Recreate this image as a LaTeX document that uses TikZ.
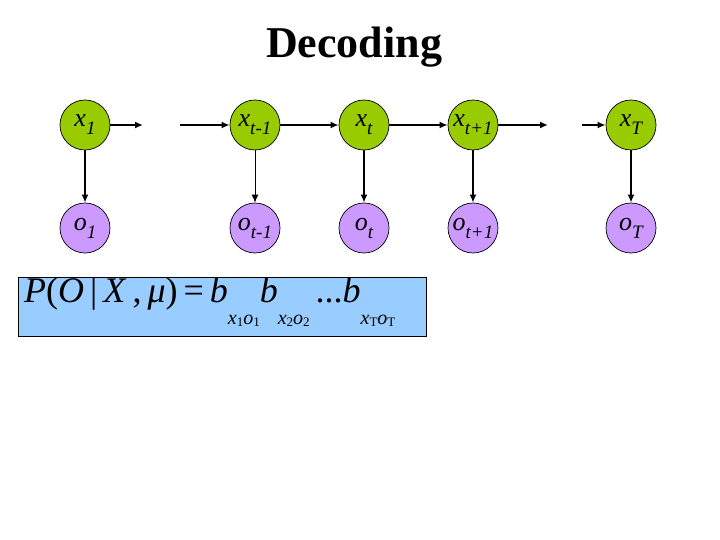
\documentclass[tikz,border=0pt]{standalone}
\usepackage{fontspec}
\setmainfont{Liberation Serif}
\usetikzlibrary{arrows.meta}
\definecolor{hidgreen}{RGB}{153,204,0}
\definecolor{obspurple}{RGB}{204,153,255}
\definecolor{eqblue}{RGB}{153,204,255}
\newcommand{\nsub}[1]{\raisebox{-8pt}{\fontsize{19}{19}\selectfont #1}}
\newcommand{\esub}[2]{\raisebox{-0.62em}{\fontsize{20}{20}\selectfont\itshape #1\raisebox{-0.12em}{\fontsize{13}{13}\selectfont\upshape #2}}}
\begin{document}
\begin{tikzpicture}[x=1pt,y=-1pt,
  hid/.style={circle,draw=black,line width=0.7pt,fill=hidgreen,minimum size=50pt,inner sep=0pt,font=\fontsize{26}{26}\selectfont\itshape},
  obs/.style={circle,draw=black,line width=0.7pt,fill=obspurple,minimum size=50pt,inner sep=0pt,font=\fontsize{26}{26}\selectfont\itshape},
  arr/.style={line width=1.7pt,-{Latex[length=8pt,width=7pt]}},
  thinarr/.style={line width=0.9pt,-{Latex[length=8pt,width=7pt]}}]
\useasboundingbox (0,0) rectangle (720,540);
\node[font=\fontsize{44}{44}\selectfont\bfseries] (title) at (354,47) {Decoding};
\node[hid] (x1) at (85,125) {x\nsub{1}};
\node[hid] (xtm) at (255,125) {x\nsub{t-1}};
\node[hid] (xt) at (364,125) {x\nsub{t}};
\node[hid] (xtp) at (473,125) {x\nsub{t+1}};
\node[hid] (xT) at (631,125) {x\nsub{T}};
\node[obs] (o1) at (85,228) {o\nsub{1}};
\node[obs] (otm) at (255,228) {o\nsub{t-1}};
\node[obs] (ot) at (364,228) {o\nsub{t}};
\node[obs] (otp) at (473,228) {o\nsub{t+1}};
\node[obs] (oT) at (631,228) {o\nsub{T}};
\coordinate (g1) at (143,125);
\coordinate (g2) at (180,125);
\coordinate (g3) at (548,125);
\coordinate (g4) at (582,125);
\draw[arr] (x1) -- (g1);
\draw[arr] (g2) -- (xtm);
\draw[arr] (xtm) -- (xt);
\draw[arr] (xt) -- (xtp);
\draw[arr] (xtp) -- (g3);
\draw[arr] (g4) -- (xT);
\draw[arr] (x1) -- (o1);
\draw[thinarr] (xtm) -- (otm);
\draw[arr] (xt) -- (ot);
\draw[arr] (xtp) -- (otp);
\draw[arr] (xT) -- (oT);
\node[draw=black,line width=0.8pt,fill=eqblue,minimum width=408pt,minimum height=59pt,anchor=north west,inner sep=0pt] (box) at (18,277) {};
\node[anchor=west,inner sep=0pt,font=\fontsize{36}{36}\selectfont] (eq) at (24,302)
  {\textit{P}(\textit{O}\,|\,\textit{X}\,,\,\textit{μ})\,=\,\textit{b}\esub{x}{1}\esub{o}{1}\textit{b}\esub{x}{2}\esub{o}{2}\,...\textit{b}\esub{x}{T}\esub{o}{T}};
\end{tikzpicture}
\end{document}
